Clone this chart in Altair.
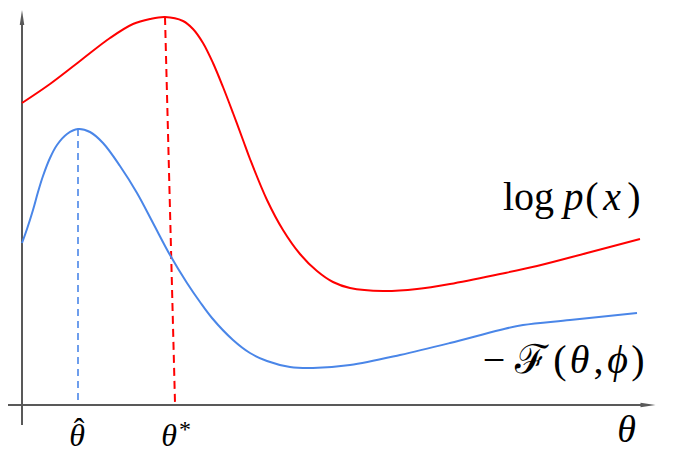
import altair as alt
import pandas as pd

# Coordinates: theta along the horizontal axis, value up the vertical axis (origin at axes crossing)
red_theta = [0, 28, 58, 88, 111, 128, 143, 161, 171, 181, 191, 201, 211, 221, 228, 245, 261, 278, 295, 311, 328, 361, 395, 428, 478, 515, 565, 618]
red_val = [302, 321, 344, 367, 381, 386, 388, 384, 376, 362, 342, 318, 292, 265, 246, 205, 175, 151, 134, 123, 117, 114, 116, 121, 131, 139, 152, 166]

blue_theta = [0, 5, 11, 16, 21, 28, 35, 45, 56, 68, 81, 98, 115, 131, 148, 165, 178, 190, 211, 228, 245, 268, 291, 328, 378, 428, 478, 501, 548, 615]
blue_val = [162, 176, 195, 213, 229, 247, 260, 271, 276, 273, 262, 239, 212, 182, 150, 122, 103, 87, 65, 52, 44, 38, 37, 40, 50, 62, 75, 80, 85, 92]

# dashed markers: theta_hat (blue) and theta_star (red)
dash_t = [56, 143]
dash_t2 = [56, 153]
dash_v = [276, 388]
dash_v2 = [0, 2]

# axes
axis_x1 = [-17, 0]
axis_x2 = [621, 0]
axis_y1 = [0, -20]
axis_y2 = [0, 380]

# text pieces (centre of each glyph, baseline)
up_text = ["log", "(", ")", "\u2212", "\u2131", "(", ",", ")", "\u02c6", "*"]
up_t = [506.5, 570, 612, 472, 509, 538, 576.5, 616, 57, 163]
up_v = [195, 195, 195, 32, 32, 32, 32, 32, -35, -32]
up_size = [40, 40, 40, 40, 40, 40, 40, 40, 32, 24]

it_text = ["p", "x", "\u03b8", "\u03d5", "\u03b8", "\u03b8", "\u03b8"]
it_t = [551.5, 590, 557.5, 595.5, 55, 147, 604.5]
it_v = [195, 195, 32, 32, -41, -41, -37]
it_size = [40, 40, 40, 40, 32, 32, 38]

xs = alt.Scale(domain=[-14, 645], nice=False, zero=False)
ys = alt.Scale(domain=[-39, 397], nice=False, zero=False)

red = pd.DataFrame({"t": red_theta, "v": red_val})
blue = pd.DataFrame({"t": blue_theta, "v": blue_val})

def X(f="t"):
    return alt.X(f + ":Q", scale=xs, axis=None)

def Y(f="v"):
    return alt.Y(f + ":Q", scale=ys, axis=None)

red_line = alt.Chart(red).mark_line(color="#ff0000", strokeWidth=2, interpolate="catmull-rom", clip=False).encode(x=X(), y=Y(), order="t:Q")
blue_line = alt.Chart(blue).mark_line(color="#4a86e8", strokeWidth=2, interpolate="catmull-rom", clip=False).encode(x=X(), y=Y(), order="t:Q")

dash_df = pd.DataFrame({"t": dash_t, "t2": dash_t2, "v": dash_v, "v2": dash_v2})
blue_dash = alt.Chart(dash_df.iloc[[0]]).mark_rule(color="#4a86e8", strokeWidth=1.6, strokeDash=[7, 5]).encode(
    x=X(), y=Y(), x2="t2:Q", y2="v2:Q")
red_dash = alt.Chart(dash_df.iloc[[1]]).mark_rule(color="#ff0000", strokeWidth=2, strokeDash=[8, 5]).encode(
    x=X(), y=Y(), x2="t2:Q", y2="v2:Q")

ax_df = pd.DataFrame({
    "t": [axis_x1[0], axis_y1[0]], "v": [axis_x1[1], axis_y1[1]],
    "t2": [axis_x2[0], axis_y2[0]], "v2": [axis_x2[1], axis_y2[1]],
})
axes = alt.Chart(ax_df).mark_rule(color="#595959", strokeWidth=2, clip=False).encode(
    x=X(), y=Y(), x2="t2:Q", y2="v2:Q")

arrow_up = alt.Chart(pd.DataFrame({"t": [0], "v": [387.5]})).mark_point(
    shape="M0,-1L0.3,1L-0.3,1Z", size=225, filled=True, color="#595959", opacity=1, strokeWidth=0, clip=False
).encode(x=X(), y=Y())
arrow_right = alt.Chart(pd.DataFrame({"t": [626], "v": [0]})).mark_point(
    shape="M1,0L-1,-0.3L-1,0.3Z", size=225, filled=True, color="#595959", opacity=1, strokeWidth=0, clip=False
).encode(x=X(), y=Y())

up_df = pd.DataFrame({"s": up_text, "t": up_t, "v": up_v, "size": up_size})
it_df = pd.DataFrame({"s": it_text, "t": it_t, "v": it_v, "size": it_size})

up_txt = alt.Chart(up_df).mark_text(align="center", baseline="alphabetic", font="Liberation Serif", color="#000000", clip=False).encode(
    x=X(), y=Y(), text="s:N", size=alt.Size("size:Q", scale=None, legend=None))
it_txt = alt.Chart(it_df).mark_text(align="center", baseline="alphabetic", font="Liberation Serif", fontStyle="italic", color="#000000", clip=False).encode(
    x=X(), y=Y(), text="s:N", size=alt.Size("size:Q", scale=None, legend=None))

chart = alt.layer(axes, arrow_up, arrow_right, blue_dash, red_dash, red_line, blue_line, up_txt, it_txt).properties(
    width=659, height=436, padding={"left": 0, "top": 0, "right": 0, "bottom": 8},
    autosize=alt.AutoSizeParams(type="none"), background="white"
).configure_view(stroke=None, strokeWidth=0)

chart.save("out.html", embed_options={"renderer": "svg", "actions": False})
